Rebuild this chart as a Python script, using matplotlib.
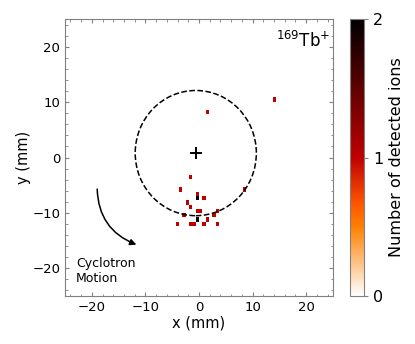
import matplotlib

matplotlib.use("Agg")
import matplotlib.pyplot as plt  # noqa: E402
import numpy as np  # noqa: E402
from matplotlib.patches import Circle  # noqa: E402
from matplotlib.ticker import MultipleLocator  # noqa: E402

# ion hits (mm) and number of detected ions per pixel
hit_x = [-1.72, -3.58, -0.47, -0.47, 0.78, -2.33, -1.72, -0.34, 0.28, 3.26,
         8.49, -2.95, 2.65, -0.47, 1.40, -4.20, -1.62, -1.10, 0.78, 3.26,
         14.09, 1.46]
hit_y = [-3.38, -5.78, -6.50, -7.35, -7.35, -8.07, -8.90, -9.69, -9.69, -9.69,
         -5.78, -10.47, -10.47, -11.19, -11.19, -11.97, -11.97, -11.97, -11.97, -11.97,
         10.65, 8.25]
hit_n = [1, 1, 1, 2, 1, 1, 1, 1, 1, 1,
         1, 1, 1, 2, 1, 1, 1, 1, 1, 1,
         1, 1]

center = (-0.6, 0.8)   # trap centre marker
radius = 11.3          # cyclotron orbit radius (mm)

x_edges = np.arange(-25.0, 25.01, 0.625)
y_edges = -5.3925 + 0.775 * np.arange(-26, 40)

H, _, _ = np.histogram2d(hit_x, hit_y, bins=[x_edges, y_edges], weights=hit_n)
H = np.ma.masked_equal(H.T, 0)

fig = plt.figure(figsize=(4.15, 3.44), dpi=100)
ax = fig.add_axes([0.1566, 0.1395, 0.6458, 0.8052])
cax = fig.add_axes([0.8434, 0.1395, 0.034, 0.8052])

mesh = ax.pcolormesh(x_edges, y_edges, H, cmap="gist_heat_r", vmin=0, vmax=2)
ax.add_patch(Circle(center, radius, fill=False, ls="--", lw=1.1, color="black"))
ax.plot(*center, marker="+", color="black", ms=9, mew=1.4)

ax.annotate("", xy=(-11.2, -15.9), xytext=(-19.0, -5.2),
            arrowprops=dict(arrowstyle="-|>", color="black", lw=1.1,
                            mutation_scale=9,
                            connectionstyle="angle3,angleA=90,angleB=-20"))
ax.text(-22.9, -17.9, "Cyclotron\nMotion", fontsize=9, ha="left", va="top")
ax.text(14.3, 21.1, r"$^{169}$Tb$^{+}$", fontsize=12, ha="left", va="center")

ax.set_xlim(-25, 25)
ax.set_ylim(-25, 25)
ax.xaxis.set_major_locator(MultipleLocator(10))
ax.yaxis.set_major_locator(MultipleLocator(10))
ax.xaxis.set_minor_locator(MultipleLocator(2))
ax.yaxis.set_minor_locator(MultipleLocator(2))
ax.tick_params(which="both", direction="in", top=True, right=True,
               color="0.5", labelsize=9.5)
ax.tick_params(which="major", length=3)
ax.tick_params(which="minor", length=1.8)
for sp in ax.spines.values():
    sp.set_color("0.5")
ax.set_xlabel("x (mm)", fontsize=10.5, labelpad=1)
ax.set_ylabel("y (mm)", fontsize=10.5, labelpad=1)

cb = fig.colorbar(mesh, cax=cax, ticks=[0, 1, 2])
cb.outline.set_edgecolor("0.5")
cb.ax.tick_params(labelsize=11.5, color="0.5", length=3)
cb.set_label("Number of detected ions", fontsize=11.5)

fig.savefig("out.png", dpi=100)
plt.close(fig)
